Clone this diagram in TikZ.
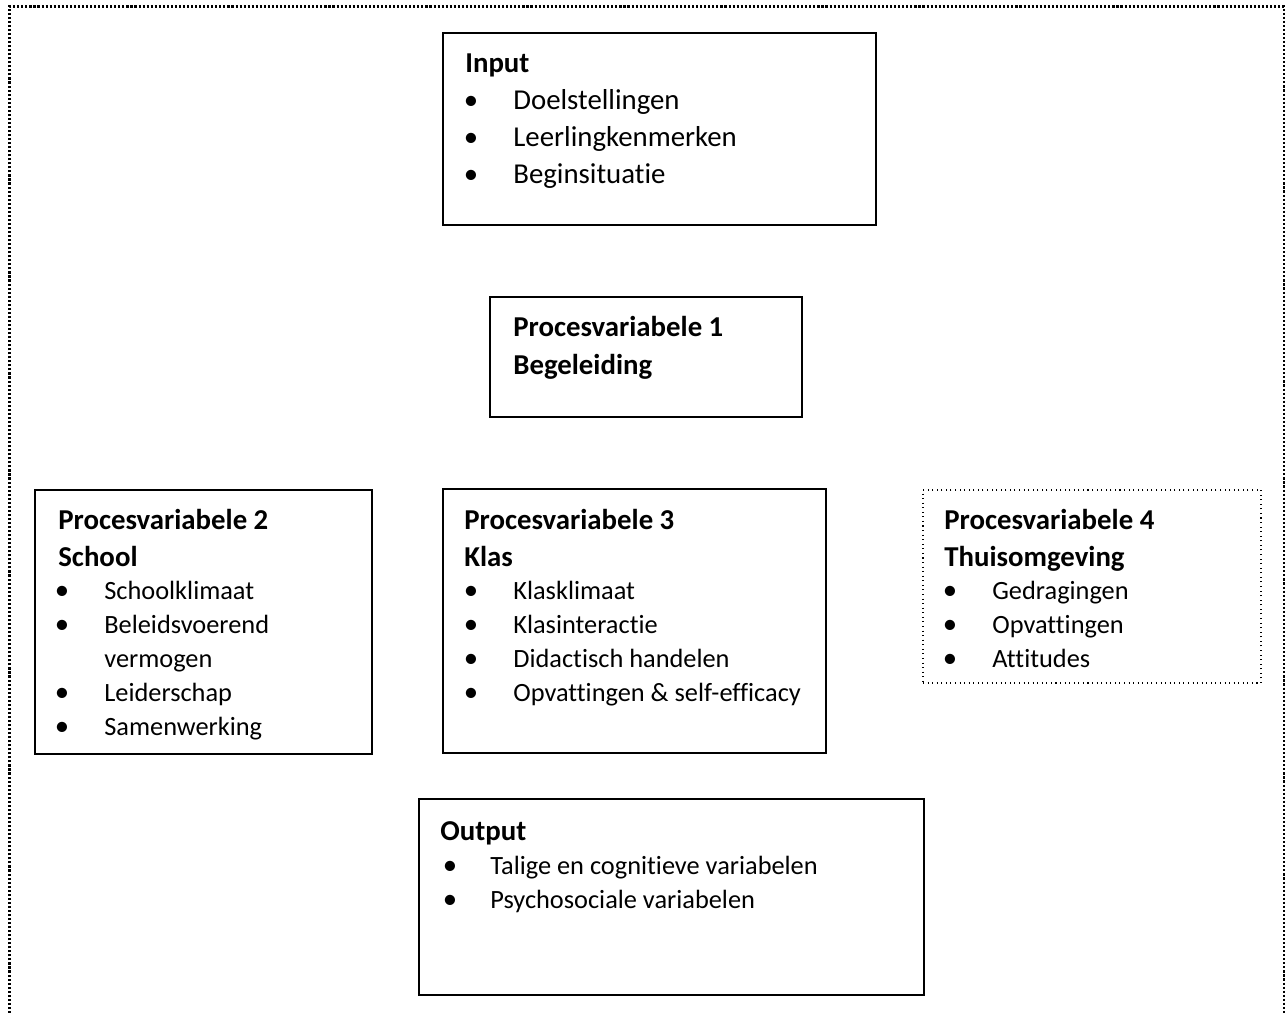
\documentclass[tikz,border=0pt]{standalone}
\usepackage{fontspec}
\setmainfont{Carlito}[Ligatures={NoCommon, NoContextual, NoRare}]
\usetikzlibrary{fit}
\tikzset{>=latex}

\begin{document}
\begin{tikzpicture}[x=0.02cm, y=-0.02cm,
            box/.style={draw, line width=1pt, inner sep=0pt},
            dotbox/.style={draw, line width=0.6pt, dotted, inner sep=0pt},
            frame/.style={line width=1.2pt, dash pattern=on 1.2pt off 1.1pt},
            title/.style={anchor=base west, inner sep=0pt, font=\fontsize{16.4}{20}\selectfont\bfseries},
            big/.style={anchor=base west, inner sep=0pt, font=\fontsize{16.4}{20}\selectfont},
            small/.style={anchor=base west, inner sep=0pt, font=\fontsize{15}{18}\selectfont},
            bul/.style={anchor=base, inner sep=0pt, font=\fontsize{16.4}{20}\selectfont}
        ]
        \useasboundingbox (0,0) rectangle (1287,1013);
        % outer frame, open at the bottom
        \draw[frame] (9.5,1013) -- (9.5,6.5) -- (1284,6.5) -- (1284,1013);
        % boxes
        \node[box, fit={(443,33) (876,225)}] (input) {};
        \node[box, fit={(490,297) (802,417)}] (proc1) {};
        \node[box, fit={(35,490) (372,754)}] (proc2) {};
        \node[box, fit={(443,489) (826,753)}] (proc3) {};
        \node[dotbox, fit={(923,490) (1261,683)}] (proc4) {};
        \node[box, fit={(419,799) (924,995)}] (output) {};
        % input
        \node[title] (input-t) at (465,73) {Input};
        \foreach \t [count=\i] in {Doelstellingen, Leerlingkenmerken, Beginsituatie} {
            \node[bul] (input-b\i) at (471, 73+37*\i) {\textbullet};
            \node[big] (input-\i) at (513, 73+37*\i) {\t};
        }
        % procesvariabele 1
        \node[title] (proc1-t) at (513,337) {Procesvariabele 1};
        \node[title] (proc1-s) at (513,374) {Begeleiding};
        % procesvariabele 2
        \node[title] (proc2-t) at (58,529) {Procesvariabele 2};
        \node[title] (proc2-s) at (58,566) {School};
        \foreach \y/\t [count=\i] in {599/Schoolklimaat, 633/Beleidsvoerend, 701/Leiderschap, 735/Samenwerking} {
            \node[bul] (proc2-b\i) at (62,\y) {\textbullet};
            \node[small] (proc2-\i) at (104,\y) {\t};
        }
        \node[small] (proc2-2b) at (104,667) {vermogen};
        % procesvariabele 3
        \node[title] (proc3-t) at (464,529) {Procesvariabele 3};
        \node[title] (proc3-s) at (464,566) {Klas};
        \foreach \y/\t [count=\i] in {599/Klasklimaat, 633/Klasinteractie, 667/Didactisch handelen, 701/Opvattingen \& self-efficacy} {
            \node[bul] (proc3-b\i) at (471,\y) {\textbullet};
            \node[small] (proc3-\i) at (513,\y) {\t};
        }
        % procesvariabele 4
        \node[title] (proc4-t) at (944,529) {Procesvariabele 4};
        \node[title] (proc4-s) at (944,566) {Thuisomgeving};
        \foreach \y/\t [count=\i] in {599/Gedragingen, 633/Opvattingen, 667/Attitudes} {
            \node[bul] (proc4-b\i) at (950,\y) {\textbullet};
            \node[small] (proc4-\i) at (992,\y) {\t};
        }
        % output
        \node[title] (output-t) at (440,840) {Output};
        \foreach \y/\t [count=\i] in {874/Talige en cognitieve variabelen, 908/Psychosociale variabelen} {
            \node[bul] (output-b\i) at (450,\y) {\textbullet};
            \node[small] (output-\i) at (490,\y) {\t};
        }
\end{tikzpicture}
\end{document}
